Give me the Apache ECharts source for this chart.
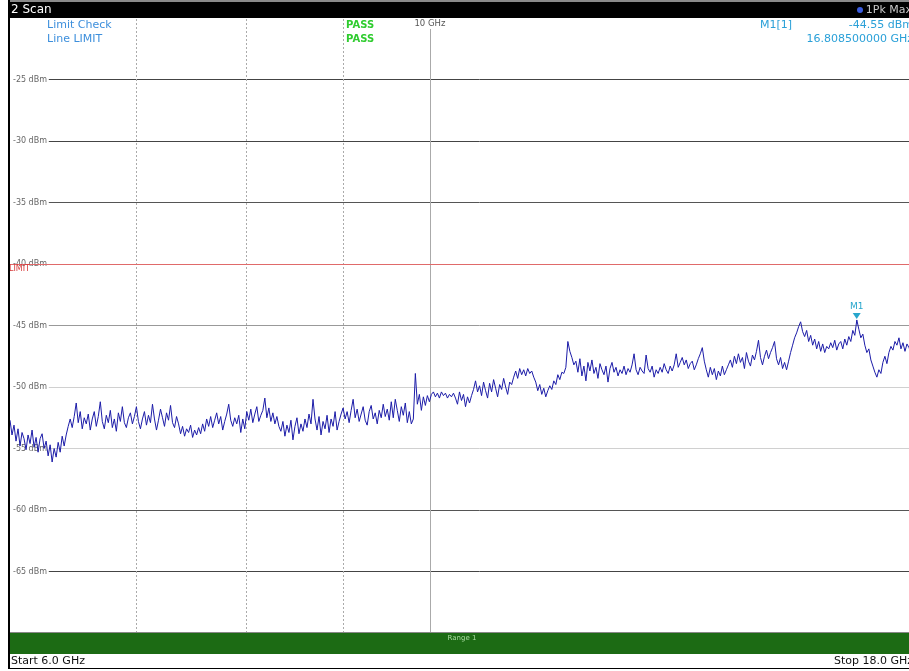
<!DOCTYPE html>
<html>
<head>
<meta charset="utf-8">
<script src="https://cdn.jsdelivr.net/npm/echarts@6/dist/echarts.min.js"></script>
<style>
html,body{margin:0;padding:0;background:#fff;overflow:hidden;}
#chart{width:909px;height:671px;}
</style>
</head>
<body>
<div id="chart"></div>
<script>
// ---- data ----
const freqStartGHz = 6.0;
const freqStopGHz = 18.0;
const yMin = -70, yMax = -20, yStep = 5;
const yTickLabels = ['-25 dBm','-30 dBm','-35 dBm','-40 dBm','-45 dBm','-50 dBm','-55 dBm','-60 dBm','-65 dBm'];
const yTickValues = [-25,-30,-35,-40,-45,-50,-55,-60,-65];
const dashedLinesGHz = [7, 8, 9];
const centerLineGHz = 10;
const limitLevel = -40;
const markerFreqGHz = 16.8085;
const markerLevel = -44.55;
// trace levels (dBm) over the sweep from Start to Stop (log-spaced sweep points)
const traceLevels = [
 -52.7,-53.9,-53.1,-54.4,-53.4,-54.8,-53.7,-54.2,-55.1,-53.9,
 -54.6,-53.5,-54.9,-54.1,-55.3,-54.2,-53.8,-55.0,-54.4,-55.6,
 -54.7,-56.1,-55.0,-55.7,-54.5,-55.3,-54.0,-54.8,-53.9,-53.2,
 -52.6,-53.3,-52.4,-51.3,-52.9,-52.0,-53.4,-52.5,-53.0,-52.2,
 -53.5,-52.6,-52.0,-53.2,-52.4,-51.2,-52.8,-53.4,-52.3,-52.9,
 -51.9,-53.3,-52.6,-53.6,-52.1,-52.8,-51.6,-52.9,-53.3,-52.5,
 -52.1,-53.0,-52.4,-51.6,-52.8,-53.4,-52.6,-52.0,-53.1,-52.3,
 -52.9,-51.4,-52.6,-53.5,-52.7,-51.8,-52.5,-53.2,-52.1,-52.7,
 -51.5,-52.9,-53.3,-52.4,-53.0,-53.8,-53.2,-54.0,-53.4,-53.7,
 -53.1,-54.1,-53.5,-53.9,-53.3,-53.8,-53.0,-53.6,-52.6,-53.2,
 -52.4,-53.3,-52.7,-52.1,-53.0,-52.4,-53.5,-52.8,-52.2,-51.4,
 -52.7,-53.2,-52.5,-53.0,-52.3,-53.7,-52.6,-53.4,-52.0,-52.7,
 -51.8,-52.9,-52.2,-51.6,-52.8,-52.3,-51.9,-50.9,-52.5,-51.7,
 -52.8,-52.1,-53.0,-52.4,-53.2,-53.6,-52.8,-54.0,-53.1,-53.7,
 -52.7,-54.3,-53.2,-52.5,-53.8,-53.0,-53.6,-52.6,-53.3,-52.2,
 -53.0,-51.0,-52.6,-53.5,-52.4,-53.9,-52.8,-53.4,-52.3,-53.7,
 -52.6,-53.2,-52.0,-53.5,-52.8,-52.2,-51.7,-52.6,-52.0,-52.9,
 -51.9,-51.0,-52.5,-51.8,-52.8,-52.2,-51.6,-52.7,-53.1,-52.0,
 -51.5,-52.6,-52.1,-53.0,-51.9,-52.5,-51.4,-52.4,-51.8,-52.7,
 -51.2,-52.5,-51.0,-51.9,-52.8,-51.6,-52.3,-51.3,-52.9,-52.0,
 -53.0,-52.6,-48.9,-51.4,-50.6,-51.9,-50.8,-51.5,-50.7,-51.2,
 -50.6,-50.4,-50.8,-50.5,-50.9,-50.4,-50.7,-50.5,-50.9,-50.6,
 -50.8,-50.5,-50.9,-51.4,-50.4,-51.1,-50.6,-51.6,-50.8,-51.3,
 -50.7,-50.2,-49.5,-50.4,-49.9,-50.7,-49.6,-50.3,-50.9,-49.7,
 -50.4,-49.4,-50.1,-50.8,-49.8,-50.2,-49.3,-50.0,-50.6,-49.6,
 -49.8,-49.2,-48.7,-49.3,-48.5,-49.0,-48.6,-49.1,-48.5,-48.9,
 -48.7,-49.2,-49.6,-50.3,-49.8,-50.6,-50.1,-50.8,-50.3,-49.9,
 -50.2,-49.5,-49.8,-49.0,-49.4,-48.8,-48.9,-48.4,-46.3,-47.1,
 -47.6,-48.2,-47.9,-48.8,-47.7,-49.1,-48.3,-49.5,-48.0,-48.7,
 -47.8,-48.9,-48.4,-49.3,-48.1,-48.6,-49.0,-48.3,-49.6,-48.5,
 -48.0,-48.8,-48.4,-49.1,-48.6,-48.9,-48.3,-49.0,-48.5,-48.8,
 -48.2,-47.3,-48.6,-49.0,-48.4,-48.7,-48.9,-47.4,-48.5,-48.8,
 -48.3,-49.2,-48.6,-48.9,-48.4,-48.8,-48.1,-48.6,-48.9,-48.3,
 -48.7,-48.2,-47.3,-48.4,-48.0,-47.6,-48.2,-47.8,-48.5,-48.1,
 -47.9,-48.6,-48.2,-47.7,-47.3,-46.8,-47.9,-48.6,-49.2,-48.4,
 -49.0,-48.5,-49.4,-48.7,-49.1,-48.3,-49.0,-48.6,-48.2,-47.8,
 -48.4,-47.5,-48.1,-47.3,-48.0,-47.6,-48.5,-47.2,-47.9,-48.3,
 -47.4,-47.8,-47.1,-46.2,-47.6,-48.2,-47.5,-47.0,-47.7,-47.2,
 -46.8,-46.3,-47.7,-48.2,-47.6,-48.5,-48.0,-48.6,-47.9,-47.2,
 -46.6,-46.0,-45.6,-45.1,-44.7,-45.5,-45.9,-45.4,-46.3,-45.8,
 -46.6,-46.1,-46.9,-46.3,-47.1,-46.5,-47.2,-46.7,-46.9,-46.4,
 -46.8,-46.2,-47.0,-46.5,-46.3,-46.9,-46.1,-46.6,-45.9,-46.3,
 -45.4,-45.8,-44.55,-45.3,-46.0,-45.7,-46.6,-47.2,-46.9,-47.8,
 -48.3,-48.8,-49.2,-48.6,-48.9,-48.0,-47.5,-48.1,-47.2,-46.7,
 -47.0,-46.3,-46.6,-46.0,-46.9,-46.4,-47.1,-46.5,-46.8,-47.2,
 -46.7
];

// ---- build ----
const N = traceLevels.length;
const traceData = traceLevels.map((v, i) => [freqStartGHz * Math.pow(freqStopGHz / freqStartGHz, i / (N - 1)), v]);

const gridColor = { '-25': '#444', '-30': '#444', '-35': '#555', '-45': '#999', '-50': '#d0d0d0', '-55': '#d0d0d0', '-60': '#555', '-65': '#444' };
const gridLineStartGHz = 6.29;
const hLines = yTickValues.filter(v => v !== limitLevel).map(v => [
  { coord: [gridLineStartGHz, v], lineStyle: { color: gridColor[String(v)] || '#555' } },
  { coord: [freqStopGHz, v] }
]);
const vLines = dashedLinesGHz.map(f => [
  { coord: [f, yMin], lineStyle: { type: [2, 2], color: '#aaa' } },
  { coord: [f, yMax] }
]);
vLines.push([{ coord: [centerLineGHz, yMin], lineStyle: { type: 'solid', color: '#aaa' } }, { coord: [centerLineGHz, yMax - 0.4] }]);

const chart = echarts.init(document.getElementById('chart'), null, { renderer: 'canvas' });
const FONT = 'DejaVu Sans';

const option = {
  animation: false,
  backgroundColor: '#fff',
  grid: { left: 10, top: 18, width: 903, height: 615, outerBoundsMode: 'none', containLabel: false },
  xAxis: {
    type: 'log', logBase: 10, min: freqStartGHz, max: freqStopGHz,
    axisLine: { show: false }, axisTick: { show: false }, axisLabel: { show: false }, splitLine: { show: false }
  },
  yAxis: {
    type: 'value', min: yMin, max: yMax, interval: yStep,
    axisLine: { show: false }, axisTick: { show: false }, splitLine: { show: false },
    axisLabel: {
      inside: true, margin: 3, fontSize: 8, color: '#666', fontFamily: FONT,
      formatter: v => { const k = yTickValues.indexOf(v); return k >= 0 ? yTickLabels[k] : ''; }
    }
  },
  series: [
    {
      type: 'line', data: [], z: 1, silent: true,
      markLine: {
        z: 1, silent: true, symbol: ['none', 'none'], animation: false,
        label: { show: false },
        lineStyle: { width: 1, type: 'solid' },
        emphasis: { disabled: true },
        data: hLines.concat(vLines)
      }
    },
    {
      type: 'line', data: traceData, z: 3, showSymbol: false, symbol: 'none',
      lineStyle: { color: '#1c1ca8', width: 1 },
      markPoint: {
        z: 6, symbol: 'triangle', symbolRotate: 180, symbolSize: [8, 6], symbolOffset: [0, -4],
        itemStyle: { color: '#27a6cc' },
        label: { show: true, position: 'top', distance: 2, formatter: 'M1', color: '#27a6cc', fontSize: 9, fontFamily: FONT },
        data: [{ coord: [markerFreqGHz, markerLevel] }]
      }
    },
    {
      type: 'line', data: [], z: 2, silent: true,
      markLine: {
        z: 2, silent: true, symbol: ['none', 'none'], animation: false,
        label: { show: false },
        lineStyle: { color: '#e06a6a', width: 1, type: 'solid' },
        data: [{ yAxis: limitLevel }]
      }
    }
  ]
};
chart.setOption(option);

const x10 = chart.convertToPixel({ xAxisIndex: 0 }, centerLineGHz);
const yLim = chart.convertToPixel({ yAxisIndex: 0 }, limitLevel);

const graphics = [
  // top bar
  { type: 'rect', shape: { x: 8, y: 0, width: 910, height: 3 }, style: { fill: '#8a8a8a' }, z: 10 },
  { type: 'rect', shape: { x: 8, y: 2, width: 910, height: 16 }, style: { fill: '#000' }, z: 10 },
  { type: 'text', x: 11, y: 10, style: { text: '2 Scan', fill: '#fff', font: '12px "DejaVu Sans"', textVerticalAlign: 'middle' }, z: 11 },
  { type: 'circle', shape: { cx: 860, cy: 10, r: 3 }, style: { fill: '#3a5ce0' }, z: 11 },
  { type: 'text', x: 912, y: 10, style: { text: '1Pk Max', fill: '#c8c8c8', font: '11px "DejaVu Sans"', textAlign: 'right', textVerticalAlign: 'middle' }, z: 11 },
  // left border
  { type: 'rect', shape: { x: 8, y: 0, width: 2, height: 669 }, style: { fill: '#000' }, z: 12 },
  // header texts
  { type: 'text', x: 47, y: 25, style: { text: 'Limit Check', fill: '#3d8fdc', font: '11px "DejaVu Sans"', textVerticalAlign: 'middle' }, z: 11 },
  { type: 'text', x: 47, y: 39, style: { text: 'Line LIMIT', fill: '#3d8fdc', font: '11px "DejaVu Sans"', textVerticalAlign: 'middle' }, z: 11 },
  { type: 'text', x: 346, y: 25, style: { text: 'PASS', fill: '#2fcc2f', font: 'bold 10px "DejaVu Sans"', textVerticalAlign: 'middle' }, z: 11 },
  { type: 'text', x: 346, y: 39, style: { text: 'PASS', fill: '#2fcc2f', font: 'bold 10px "DejaVu Sans"', textVerticalAlign: 'middle' }, z: 11 },
  { type: 'rect', shape: { x: x10 - 16, y: 19, width: 33, height: 10 }, style: { fill: '#fff' }, z: 9 },
  { type: 'text', x: x10, y: 24, style: { text: '10 GHz', fill: '#555', font: '8.5px "DejaVu Sans"', textAlign: 'center', textVerticalAlign: 'middle' }, z: 11 },
  { type: 'text', x: 760, y: 25, style: { text: 'M1[1]', fill: '#2aa0d8', font: '11px "DejaVu Sans"', textVerticalAlign: 'middle' }, z: 11 },
  { type: 'text', x: 913, y: 25, style: { text: String(markerLevel.toFixed(2)) + ' dBm', fill: '#2aa0d8', font: '11px "DejaVu Sans"', textAlign: 'right', textVerticalAlign: 'middle' }, z: 11 },
  { type: 'text', x: 913, y: 39, style: { text: markerFreqGHz.toFixed(9) + ' GHz', fill: '#2aa0d8', font: '11px "DejaVu Sans"', textAlign: 'right', textVerticalAlign: 'middle' }, z: 11 },
  // limit label
  { type: 'text', x: 9, y: yLim + 5, style: { text: 'LIMIT', fill: '#d83a3a', font: '8px "DejaVu Sans"', textVerticalAlign: 'middle' }, z: 11 },
  // bottom range bar
  { type: 'rect', shape: { x: 10, y: 632, width: 910, height: 1 }, style: { fill: '#888' }, z: 10 },
  { type: 'rect', shape: { x: 10, y: 633, width: 910, height: 21 }, style: { fill: '#1c6b14' }, z: 10 },
  { type: 'text', x: 462, y: 638, style: { text: 'Range 1', fill: '#a9dca0', font: '7px "DejaVu Sans"', textAlign: 'center', textVerticalAlign: 'middle' }, z: 11 },
  { type: 'text', x: 11, y: 661, style: { text: 'Start ' + freqStartGHz.toFixed(1) + ' GHz', fill: '#111', font: '11px "DejaVu Sans"', textVerticalAlign: 'middle' }, z: 11 },
  { type: 'text', x: 913, y: 661, style: { text: 'Stop ' + freqStopGHz.toFixed(1) + ' GHz', fill: '#111', font: '11px "DejaVu Sans"', textAlign: 'right', textVerticalAlign: 'middle' }, z: 11 },
  { type: 'rect', shape: { x: 8, y: 668, width: 910, height: 1 }, style: { fill: '#000' }, z: 10 }
];
chart.setOption({ graphic: graphics });
</script>
</body>
</html>
